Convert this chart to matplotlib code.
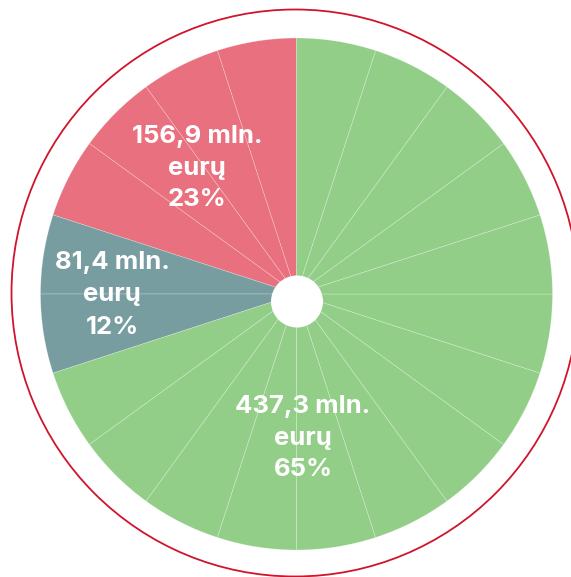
import matplotlib
matplotlib.use("Agg")
import matplotlib.pyplot as plt
from matplotlib.patches import Circle

# Data
categories = ["Red", "Teal", "Green"]
amounts = ["156,9", "81,4", "437,3"]
percents = [23, 12, 65]
segments = [4, 2, 14]  # number of 18° segments drawn per category (as in picture)
colors = ["#E9707E", "#789DA0", "#93CE89"]

W, H = 571, 577
fig = plt.figure(figsize=(W / 100, H / 100), dpi=100)
ax = fig.add_axes([0, 0, 1, 1])

def py(y):
    return H - y

sizes = []
wcolors = []
for n, c in zip(segments, colors):
    sizes += [1] * n
    wcolors += [c] * n

ax.pie(sizes, colors=wcolors, startangle=90, counterclock=True,
       center=(296.5, py(294)), radius=256, frame=True,
       wedgeprops=dict(linewidth=0.5, edgecolor=(1, 1, 1, 0.3)))
ax.set_xlim(0, W)
ax.set_ylim(0, H)
ax.set_aspect("equal")
ax.axis("off")

# centre hole
ax.add_patch(Circle((297, py(301.5)), 26, facecolor="white", edgecolor="none", zorder=5))
# outer ring
ax.add_patch(Circle((295, py(293)), 283.5, facecolor="none", edgecolor="#D0142C",
                    linewidth=1.3, zorder=6))

label_pos = [(197, 168), (112, 295), (303, 438)]
for (x, y), a, p in zip(label_pos, amounts, percents):
    ax.text(x, py(y), f"{a} mln.\neurų\n{p}%", ha="center", va="center",
            color="white", fontsize=18.5, fontweight="bold", family="Inter",
            linespacing=1.5, zorder=7)

fig.savefig("out.png", dpi=100)
